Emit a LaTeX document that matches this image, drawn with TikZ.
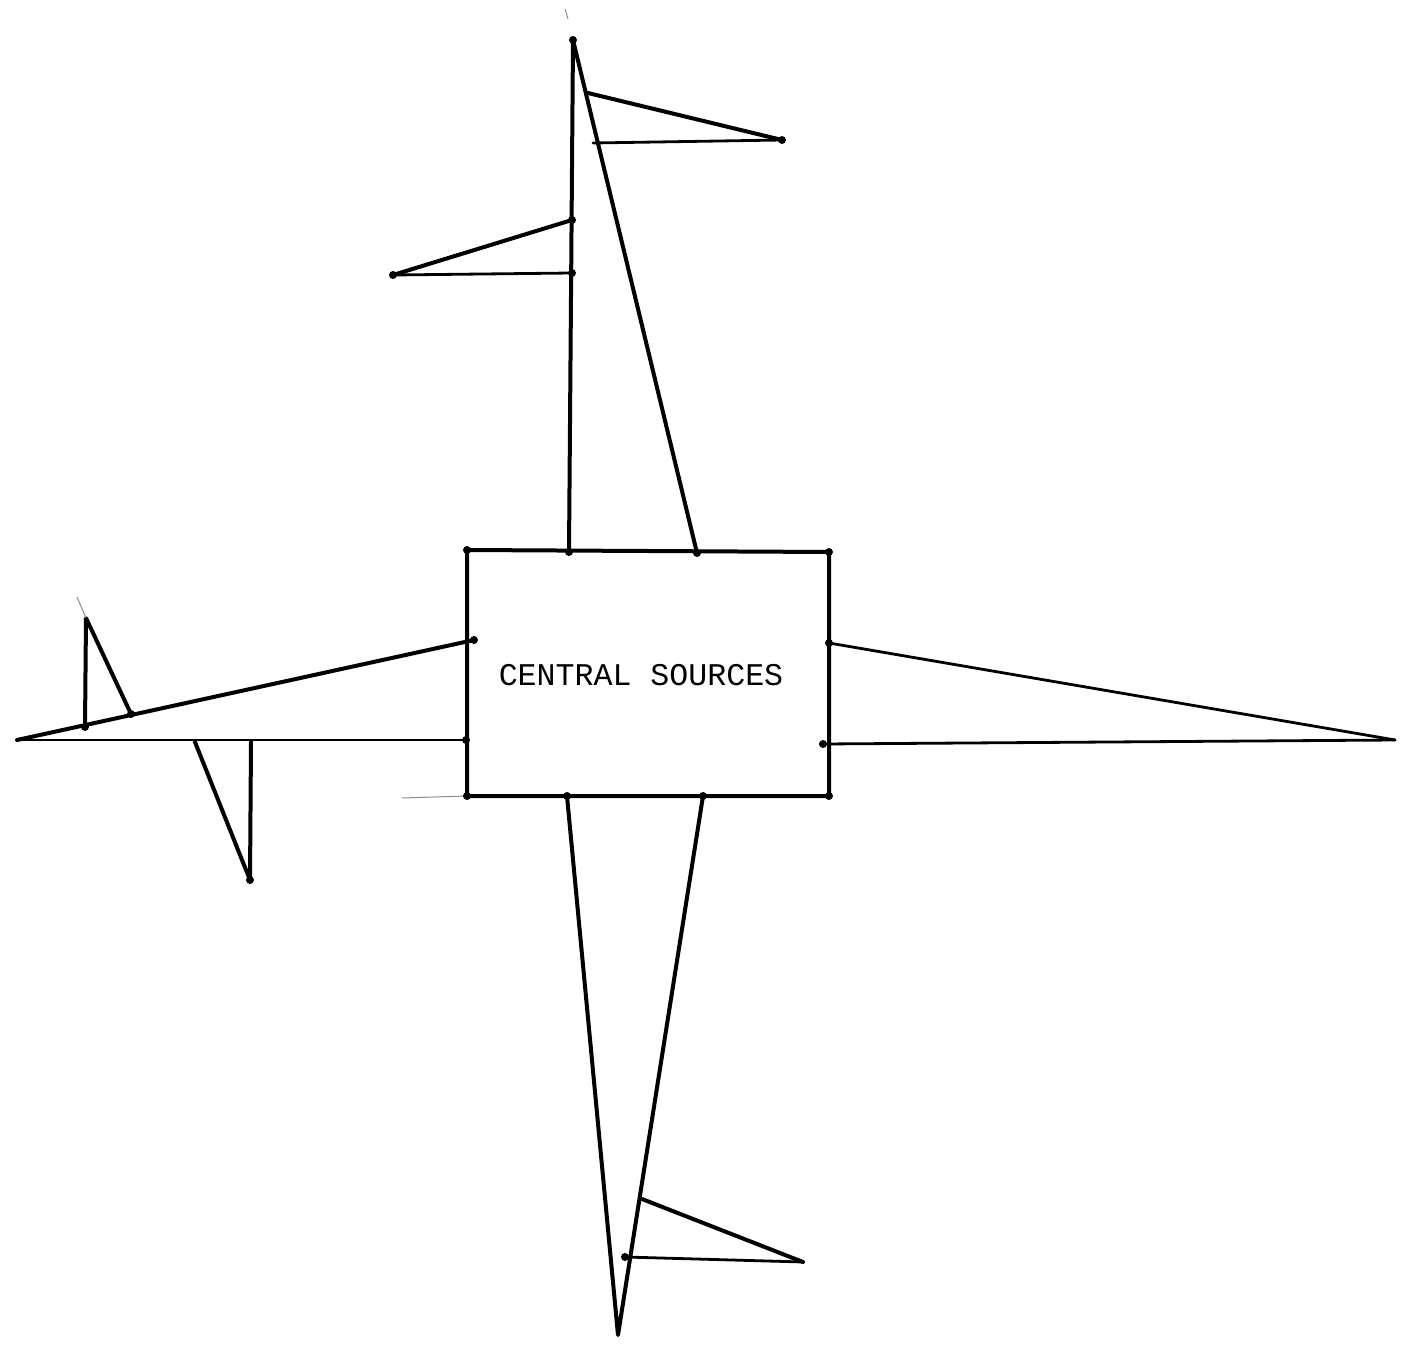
\documentclass[tikz,border=0pt]{standalone}
\usepackage{fontspec}
\newfontfamily\plotfont{Liberation Mono}
\begin{document}
\begin{tikzpicture}[x=0.5pt,y=-0.5pt,
  ln/.style={line width=2pt,line cap=round,line join=round},
  thin ln/.style={line width=1.4pt,line cap=round},
  faint/.style={line width=0.5pt,black!45},
  dotm/.style={circle,fill=black,inner sep=0pt,minimum size=4pt}]
\useasboundingbox (0,0) rectangle (1410,1349);
% box corners
\coordinate (tl) at (467,550);
\coordinate (tr) at (829,552);
\coordinate (br) at (829,796);
\coordinate (bl) at (467,796);
\draw[ln] (tl) -- (tr) -- (br) -- (bl) -- cycle;
\node (txt) at (641,675) {\plotfont\fontsize{15.8pt}{18pt}\selectfont CENTRAL SOURCES};
% top spike
\coordinate (t1) at (569,552);
\coordinate (t2) at (697,553);
\coordinate (tap) at (573,40);
\draw[ln] (t1) -- (tap) -- (t2);
\coordinate (tf1) at (588,93);
\coordinate (tf2) at (782,140);
\coordinate (tf3) at (593,143);
\draw[ln] (tf1) -- (tf2);
\draw[thin ln] (tf3) -- (tf2);
\coordinate (lf1) at (572,220);
\coordinate (lf2) at (393,275);
\coordinate (lf3) at (572,273);
\draw[ln] (lf1) -- (lf2);
\draw[thin ln] (lf2) -- (lf3);
\coordinate (tk1) at (565,9);
\coordinate (tk2) at (568,19);
\draw[faint] (tk1) -- (tk2);
% left spike
\coordinate (l1) at (474,640);
\coordinate (l2) at (466,740);
\coordinate (lap) at (17,740);
\draw[ln] (l1) -- (lap);
\draw[thin ln] (lap) -- (l2);
\coordinate (ua) at (85,727);
\coordinate (ub) at (86,618);
\coordinate (uc) at (131,714);
\draw[ln] (ua) -- (ub) -- (uc);
\coordinate (uk) at (77,597);
\draw[faint] (uk) -- (ub);
\coordinate (da) at (195,742);
\coordinate (db) at (250,880);
\coordinate (dc) at (251,742);
\draw[ln] (da) -- (db) -- (dc);
\coordinate (fl) at (402,798);
\draw[faint] (fl) -- (bl);
% right spike
\coordinate (r1) at (829,643);
\coordinate (r2) at (823,744);
\coordinate (rap) at (1395,740);
\draw[thin ln] (r1) -- (rap);
\draw[thin ln] (r2) -- (rap);
% bottom spike
\coordinate (b1) at (567,796);
\coordinate (b2) at (703,796);
\coordinate (bap) at (618,1335);
\draw[ln] (b1) -- (bap) -- (b2);
\coordinate (bf1) at (642,1199);
\coordinate (bf2) at (803,1262);
\coordinate (bf3) at (625,1257);
\draw[ln] (bf1) -- (bf2);
\draw[thin ln] (bf3) -- (bf2);
% junction dots
\foreach \p in {tl,tr,br,bl,t1,t2,tap,tf2,lf1,lf2,lf3,l1,l2,ua,uc,db,r1,r2,b1,b2,bf3}
  \node[dotm] at (\p) {};
\end{tikzpicture}
\end{document}
